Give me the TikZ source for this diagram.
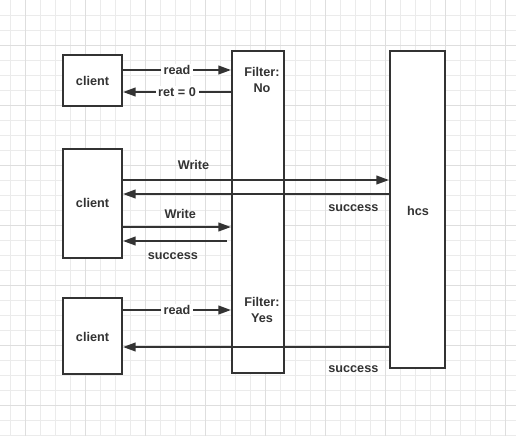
\documentclass[tikz,border=0pt]{standalone}
\usepackage{fontspec}
\setmainfont{Liberation Sans}
\usetikzlibrary{arrows.meta}
\definecolor{ink}{HTML}{333333}
\definecolor{gridminor}{HTML}{EBEBEB}
\definecolor{gridmajor}{HTML}{DEDEDE}
\begin{document}
\begin{tikzpicture}[x=0.75pt, y=-0.75pt, font=\bfseries\fontsize{9.5}{11.5}\selectfont, text=ink,
	box style/.style={rectangle, draw=ink, line width=1.5pt, inner sep=0pt, fill=white},
	msg style/.style={draw=ink, line width=1.5pt, -{Triangle[length=9.5pt, width=6.5pt]}},
	tag style/.style={fill=white, inner xsep=2pt, inner ysep=1pt, text=ink},
	note style/.style={align=center, text=ink}]
	\useasboundingbox (0, 0) rectangle (516, 436);
	\fill[white] (0, 0) rectangle (516, 436);
	% background grid
	\foreach \x in {10, 25, ..., 516} \draw[gridminor, line width=0.75pt] (\x, 0) -- (\x, 436);
	\foreach \y in {15, 30, ..., 436} \draw[gridminor, line width=0.75pt] (0, \y) -- (516, \y);
	\foreach \x in {25, 85, ..., 516} \draw[gridmajor, line width=0.75pt] (\x, 0) -- (\x, 436);
	\foreach \y in {45, 105, ..., 436} \draw[gridmajor, line width=0.75pt] (0, \y) -- (516, \y);
	% boxes
	\node[box style, minimum width=44.25pt, minimum height=38.25pt] (C1) at (92.5, 80.5) {};
	\node[box style, minimum width=44.25pt, minimum height=81.75pt] (C2) at (92.5, 203.5) {};
	\node[box style, minimum width=44.25pt, minimum height=57pt] (C3) at (92.5, 336) {};
	\node[box style, minimum width=39pt, minimum height=241.5pt] (F) at (258, 212) {};
	\node[box style, minimum width=41.25pt, minimum height=237.75pt] (H) at (417.5, 209.5) {};
	% texts
	\node (T1) at (92.5, 81) {client};
	\node (T2) at (92.5, 203) {client};
	\node (T3) at (92.5, 337) {client};
	\node[note style] (N1) at (262, 80) {Filter:\\No};
	\node[note style] (N2) at (262, 310) {Filter:\\Yes};
	\node (T4) at (418, 211) {hcs};
	% messages
	\draw[msg style] (C1.east |- 0, 70) -- node[tag style] {read} (F.west |- 0, 70);
	\draw[msg style] (F.west |- 0, 92) -- node[tag style] {ret = 0} (C1.east |- 0, 92);
	\draw[msg style] (C2.east |- 0, 180) -- node[above=4pt, pos=0.265] {Write} (H.west |- 0, 180);
	\draw[msg style] (H.west |- 0, 194) -- node[below=4pt, pos=0.134] {success} (C2.east |- 0, 194);
	\draw[msg style] (C2.east |- 0, 227) -- node[above=2pt, pos=0.53] {Write} (F.west |- 0, 227);
	\draw[msg style] ([xshift=-3pt]F.west |- 0, 241) -- node[below=5pt, pos=0.52] {success} (C2.east |- 0, 241);
	\draw[msg style] (C3.east |- 0, 310) -- node[tag style] {read} (F.west |- 0, 310);
	\draw[msg style] (H.west |- 0, 347) -- node[below=10pt, pos=0.134] {success} (C3.east |- 0, 347);
\end{tikzpicture}
\end{document}
